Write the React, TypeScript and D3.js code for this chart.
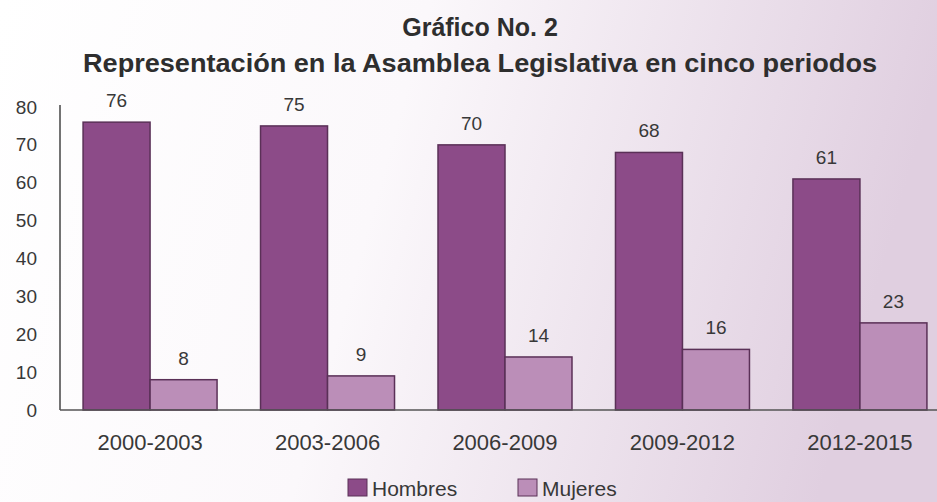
import React from "react";
import * as d3 from "d3";

const periods = ["2000-2003", "2003-2006", "2006-2009", "2009-2012", "2012-2015"];
const hombres = [76, 75, 70, 68, 61];
const mujeres = [8, 9, 14, 16, 23];
const yTicks = [0, 10, 20, 30, 40, 50, 60, 70, 80];
const seriesNames = ["Hombres", "Mujeres"];
const seriesColors = ["#8c4b88", "#bb8eb8"];

const W = 937;
const H = 502;

export default function App() {
  const x0 = d3.scaleBand<string>().domain(periods).range([60, 950]).paddingInner(0.245).paddingOuter(0.13);
  const x1 = d3.scaleBand<string>().domain(seriesNames).range([0, x0.bandwidth()]).padding(0);
  const y = d3.scaleLinear().domain([0, 80]).range([410, 107]);
  const font = "Arial, 'Liberation Sans', Helvetica, sans-serif";
  const rows = periods.map((p, i) => ({ p, vals: [hombres[i], mujeres[i]] }));
  const txt = "#383838";

  return (
    <svg width={W} height={H} style={{ position: "absolute", left: 0, top: 0 }} fontFamily={font}>
      <defs>
        <linearGradient id="bg" x1="0" y1="0" x2="1" y2="0.15">
          <stop offset="0" stopColor="#ffffff" />
          <stop offset="0.45" stopColor="#fbf8fb" />
          <stop offset="1" stopColor="#e0cfe0" />
        </linearGradient>
      </defs>
      <rect x={0} y={0} width={W} height={H} fill="url(#bg)" />
      <text x={480} y={36} textAnchor="middle" fontSize={25} fontWeight="bold" fill="#2e2e2e">Gráfico No. 2</text>
      <text x={480} y={72} textAnchor="middle" fontSize={25} fontWeight="bold" fill="#2e2e2e"
        textLength={794} lengthAdjust="spacingAndGlyphs">Representación en la Asamblea Legislativa en cinco periodos</text>
      {yTicks.map((t) => (
        <text key={t} x={37} y={y(t) + 6.5} textAnchor="end" fontSize={19} fill={txt}>{t}</text>
      ))}
      {rows.map((r) => (
        <g key={r.p} transform={`translate(${x0(r.p)},0)`}>
          {r.vals.map((v, j) => (
            <g key={j}>
              <rect x={x1(seriesNames[j])} y={y(v)} width={x1.bandwidth()} height={y(0) - y(v)}
                fill={seriesColors[j]} stroke="#5a3057" strokeWidth={1.5} />
              <text x={(x1(seriesNames[j]) as number) + x1.bandwidth() / 2} y={y(v) - 15}
                textAnchor="middle" fontSize={19} fill={txt}>{v}</text>
            </g>
          ))}
          <text x={x0.bandwidth() / 2} y={450} textAnchor="middle" fontSize={22} fill={txt}>{r.p}</text>
        </g>
      ))}
      <line x1={60} x2={60} y1={105} y2={410} stroke="#444" strokeWidth={1.5} />
      <line x1={60} x2={W} y1={410} y2={410} stroke="#555" strokeWidth={1.5} />
      {seriesNames.map((s, i) => (
        <g key={s} transform={`translate(${[348, 518][i]},479)`}>
          <rect x={0} y={0} width={19} height={17} fill={seriesColors[i]} stroke="#5a3057" strokeWidth={1} />
          <text x={24} y={17} fontSize={21} fill={txt}>{s}</text>
        </g>
      ))}
    </svg>
  );
}
